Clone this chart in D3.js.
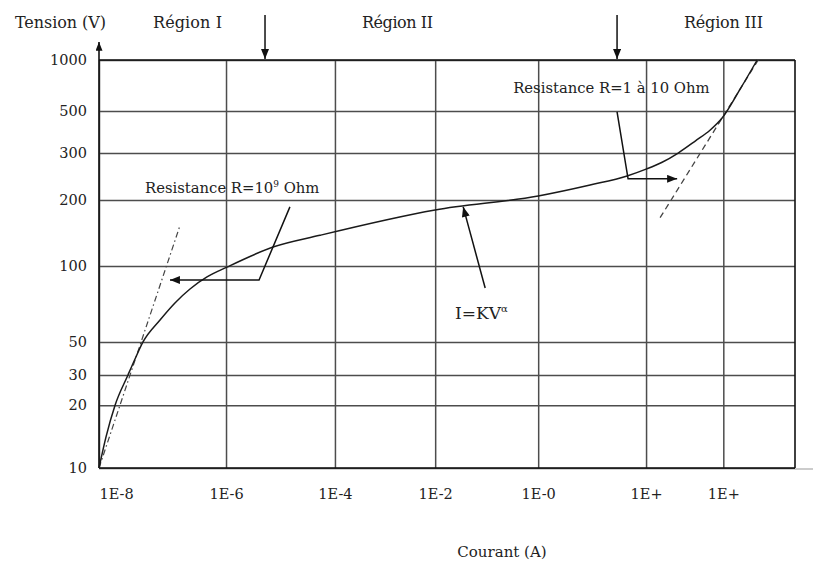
<!DOCTYPE html>
<html>
<head>
<meta charset="utf-8">
<script src="https://cdn.jsdelivr.net/npm/d3@7"></script>
<style>
  html, body { margin: 0; padding: 0; background: #fff; }
  svg text { font-family: "DejaVu Serif", "Liberation Serif", serif; fill: #222; }
</style>
</head>
<body>
<svg id="chart" width="813" height="566"></svg>
<script>
// ---------- data ----------
const yTickValues = [10, 20, 30, 50, 100, 200, 300, 500, 1000];
const xTickExponents = [-8, -6, -4, -2, 0, 2, 4];
const xTickLabels = ["1E-8", "1E-6", "1E-4", "1E-2", "1E-0", "1E+", "1E+"];
const xEndExponent = 6;

// main I-V characteristic: current (A) and voltage (V)
const curveCurrent = [1e-8, 1.29e-8, 1.79e-8, 2.86e-8, 3.69e-8, 4.93e-8, 9.14e-8, 1.57e-7, 2.71e-7, 5.02e-7, 1.04e-6, 7.3e-6, 5.3e-5, 1e-2, 1, 9.18, 44.5, 100, 261, 678, 1875, 4590, 9300, 2.97e4, 8.8e4];
const curveVoltage = [10, 14.1, 20, 30, 38.4, 50, 61.1, 71.4, 81.1, 90.5, 99, 122, 138, 180, 207, 227.6, 246, 261, 277, 300, 347, 397, 459, 675, 1000];

// asymptotes (dashed)
const lowAsymCurrent = [1e-8, 1.9e-7];
const lowAsymVoltage = [10, 154];
const highAsymCurrent = [231, 9.4e4];
const highAsymVoltage = [166, 1000];

// annotation leaders
const r9LeaderCurrent = [1.49e-5, 4.04e-6, 1.31e-7];
const r9LeaderVoltage = [186, 88, 88];
const r1LeaderCurrent = [29, 46.4, 638];
const r1LeaderVoltage = [494, 240, 240];
const kvArrowCurrent = [0.0935, 0.035];
const kvArrowVoltage = [81.8, 186];
const regionBoundaryCurrent = [5.2e-6, 29];

// ---------- layout ----------
const svg = d3.select("#chart");
const Wt = 813, Ht = 566;
const M = { left: 99, top: 60, right: 18, bottom: 98 };
const W = Wt - M.left - M.right;   // 696
const H = Ht - M.top - M.bottom;   // 408
// non-uniform hand-drawn axis spacing (fractions of plot size)
const xFrac = [0, 0.1825, 0.339, 0.483, 0.631, 0.786, 0.897, 1];
const yFrac = [1, 0.846, 0.772, 0.691, 0.505, 0.343, 0.228, 0.125, 0];

const x = d3.scaleLinear()
  .domain(xTickExponents.concat([xEndExponent]))
  .range(xFrac.map(f => M.left + f * W));
const y = d3.scaleLinear()
  .domain(yTickValues.map(Math.log10))
  .range(yFrac.map(f => M.top + f * H));
const px = a => x(Math.log10(a));
const py = v => y(Math.log10(v));

const defs = svg.append("defs");
defs.append("marker").attr("id", "arrow")
  .attr("viewBox", "0 0 10 8").attr("refX", 10).attr("refY", 4)
  .attr("markerUnits", "userSpaceOnUse").attr("markerWidth", 11).attr("markerHeight", 8)
  .attr("orient", "auto")
  .append("path").attr("d", "M0,0 L10,4 L0,8 Z").attr("fill", "#111");
defs.append("marker").attr("id", "arrowS")
  .attr("viewBox", "0 0 10 8").attr("refX", 10).attr("refY", 4)
  .attr("markerUnits", "userSpaceOnUse").attr("markerWidth", 9).attr("markerHeight", 7)
  .attr("orient", "auto")
  .append("path").attr("d", "M0,0 L10,4 L0,8 Z").attr("fill", "#111");

// ---------- grid / axes ----------
const gridColor = "#4d4d4d";
const yAxis = d3.axisLeft(y)
  .tickValues(yTickValues.map(Math.log10))
  .tickFormat((d, i) => yTickValues[i])
  .tickSizeInner(-W).tickSizeOuter(0).tickPadding(12);
const gy = svg.append("g").attr("transform", `translate(${M.left},0)`).call(yAxis);
gy.select(".domain").remove();
gy.selectAll(".tick line").attr("stroke", gridColor).attr("stroke-width", 1.5);
gy.selectAll(".tick text").style("font-size", "14.5px").attr("fill", "#222");

const xAxis = d3.axisBottom(x)
  .tickValues(xTickExponents)
  .tickFormat((d, i) => xTickLabels[i])
  .tickSizeInner(-H).tickSizeOuter(0).tickPadding(21);
const gx = svg.append("g").attr("transform", `translate(0,${M.top + H})`).call(xAxis);
gx.select(".domain").remove();
gx.selectAll(".tick line").attr("stroke", gridColor).attr("stroke-width", 1.5);
gx.selectAll(".tick text").style("font-size", "14.5px").attr("fill", "#222")
  .attr("text-anchor", (d, i) => i === 0 ? "start" : "middle");

// frame: top and right borders
svg.append("line").attr("x1", x(-8)).attr("x2", x(xEndExponent))
  .attr("y1", py(1000)).attr("y2", py(1000)).attr("stroke", "#111").attr("stroke-width", 1.6);
svg.append("line").attr("x1", x(xEndExponent)).attr("x2", x(xEndExponent))
  .attr("y1", py(1000)).attr("y2", py(10)).attr("stroke", "#111").attr("stroke-width", 1.6);
// bottom axis (extends a little past the frame)
svg.append("line").attr("x1", x(-8)).attr("x2", x(xEndExponent))
  .attr("y1", py(10)).attr("y2", py(10)).attr("stroke", "#111").attr("stroke-width", 1.6);
svg.append("line").attr("x1", x(xEndExponent)).attr("x2", Wt)
  .attr("y1", py(10) + 1).attr("y2", py(10) + 1).attr("stroke", "#aaa").attr("stroke-width", 1.2);
// left axis with arrow
svg.append("line").attr("x1", x(-8)).attr("x2", x(-8))
  .attr("y1", py(10)).attr("y2", M.top - 18)
  .attr("stroke", "#111").attr("stroke-width", 1.6).attr("marker-end", "url(#arrowS)");

// ---------- curves ----------
const line = d3.line().x(d => px(d[0])).y(d => py(d[1])).curve(d3.curveMonotoneX);
const straight = d3.line().x(d => px(d[0])).y(d => py(d[1]));

svg.append("path")
  .datum(d3.zip(lowAsymCurrent, lowAsymVoltage))
  .attr("d", straight).attr("fill", "none").attr("stroke", "#444")
  .attr("stroke-width", 1.2).attr("stroke-dasharray", "6,3,1.5,3");
svg.append("path")
  .datum(d3.zip(highAsymCurrent, highAsymVoltage))
  .attr("d", straight).attr("fill", "none").attr("stroke", "#444")
  .attr("stroke-width", 1.3).attr("stroke-dasharray", "6,4");

svg.append("path")
  .datum(d3.zip(curveCurrent, curveVoltage))
  .attr("d", line).attr("fill", "none").attr("stroke", "#1a1a1a").attr("stroke-width", 1.5);

// ---------- annotations ----------
svg.append("path").datum(d3.zip(r9LeaderCurrent, r9LeaderVoltage))
  .attr("d", straight).attr("fill", "none").attr("stroke", "#111").attr("stroke-width", 1.5)
  .attr("marker-end", "url(#arrow)");
svg.append("path").datum(d3.zip(r1LeaderCurrent, r1LeaderVoltage))
  .attr("d", straight).attr("fill", "none").attr("stroke", "#111").attr("stroke-width", 1.5)
  .attr("marker-end", "url(#arrow)");
svg.append("path").datum(d3.zip(kvArrowCurrent, kvArrowVoltage))
  .attr("d", straight).attr("fill", "none").attr("stroke", "#111").attr("stroke-width", 1.5)
  .attr("marker-end", "url(#arrow)");

const t1 = svg.append("text").attr("x", px(5.3e-8)).attr("y", py(212)).style("font-size", "14.8px");
t1.append("tspan").text("Resistance R=10");
t1.append("tspan").attr("dy", -6).style("font-size", "9px").text("9");
t1.append("tspan").attr("dy", 6).text(" Ohm");

svg.append("text").attr("x", px(0.327)).attr("y", py(638)).style("font-size", "14.8px")
  .text("Resistance R=1 à 10 Ohm");

const t3 = svg.append("text").attr("x", px(0.0244)).attr("y", py(61.6)).style("font-size", "17px");
t3.append("tspan").text("I=KV");
t3.append("tspan").attr("dy", -7).style("font-size", "10px").text("α");

// region boundary arrows
regionBoundaryCurrent.forEach(c => {
  svg.append("line").attr("x1", px(c)).attr("x2", px(c))
    .attr("y1", 15).attr("y2", M.top - 1)
    .attr("stroke", "#111").attr("stroke-width", 1.5).attr("marker-end", "url(#arrow)");
});

// header labels
const headers = [
  { t: "Tension (V)", x: 15, len: 91 },
  { t: "Région I", x: 153, len: 69 },
  { t: "Région II", x: 362, len: 71 },
  { t: "Région III", x: 684, len: 79 }
];
svg.selectAll(".hdr").data(headers).enter().append("text")
  .attr("class", "hdr").attr("x", d => d.x).attr("y", 28)
  .attr("textLength", d => d.len).attr("lengthAdjust", "spacing")
  .style("font-size", "16px").text(d => d.t);

svg.append("text").attr("x", 502).attr("y", 557).attr("text-anchor", "middle")
  .style("font-size", "15px").text("Courant (A)");
</script>
</body>
</html>
